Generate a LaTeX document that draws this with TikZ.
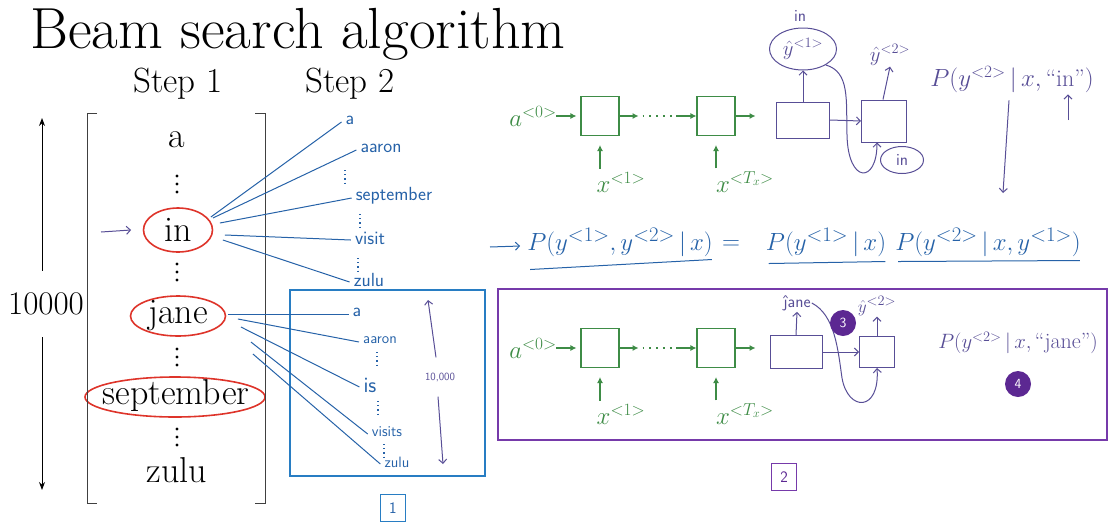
\documentclass[tikz,border=0pt]{standalone}
\usepackage{amsmath,amssymb}
\usepackage{tikz}
\usetikzlibrary{arrows.meta,shapes.geometric}

\definecolor{rnngreen}{RGB}{62,140,70}
\definecolor{handblue}{RGB}{38,98,168}
\definecolor{handpurple}{RGB}{88,78,150}
\definecolor{boxpurple}{RGB}{118,58,170}
\definecolor{boxblue}{RGB}{40,125,195}
\definecolor{ringred}{RGB}{222,52,42}
\definecolor{dotpurple}{RGB}{92,40,146}

\begin{document}
\begin{tikzpicture}[x=1pt, y=-1pt, >={Latex[length=2mm]},
  word/.style={font=\fontsize{36}{40}\selectfont, inner sep=0pt},
  ring/.style={draw=ringred, line width=1.6pt},
  cell/.style={draw=rnngreen, line width=1.1pt, minimum width=38pt, minimum height=39pt, inner sep=0pt},
  garrow/.style={rnngreen, line width=1.1pt, -{Latex[length=6pt,width=6pt]}},
  gtext/.style={text=rnngreen, font=\fontsize{24}{26}\selectfont, inner sep=1pt},
  hand/.style={handpurple, line width=1pt},
  hbox/.style={draw=handpurple, line width=1pt, inner sep=0pt},
  hring/.style={ellipse, draw=handpurple, line width=1pt, inner sep=0pt},
  harrow/.style={hand, -{Straight Barb[length=4pt,width=8pt]}},
  hw/.style={text=handblue, font=\sffamily\fontsize{19}{22}\selectfont, inner sep=1pt},
  hwsmall/.style={hw, font=\sffamily\fontsize{15}{18}\selectfont},
  hp/.style={text=handpurple, font=\fontsize{22}{26}\selectfont, inner sep=1pt},
  hpword/.style={hp, font=\sffamily\fontsize{17}{18}\selectfont},
  eq/.style={text=handblue, font=\fontsize{28}{32}\selectfont, inner sep=1pt},
  fan/.style={handblue, line width=1pt},
  hdots/.style={handblue, line width=1.2pt, dash pattern=on 1.2pt off 3pt},
  badge/.style={circle, fill=dotpurple, text=white, font=\sffamily\fontsize{14}{16}\selectfont, minimum size=26pt, inner sep=0pt},
  tag/.style={draw, line width=1.2pt, font=\sffamily\fontsize{16}{18}\selectfont, minimum width=25pt, minimum height=27pt, inner sep=0pt}]
\useasboundingbox (0,0) rectangle (1110,528);

% title and column heads
\node[anchor=base west, font=\fontsize{58}{64}\selectfont, inner sep=0pt] (title) at (30,48) {Beam search algorithm};
\node[anchor=base, font=\fontsize{35}{38}\selectfont] (step1) at (178,92) {Step 1};
\node[anchor=base, font=\fontsize{35}{38}\selectfont] (step2) at (350,92) {Step 2};

% vocabulary
\node[word] (va) at (177,140) {a};
\node[word] (vin) at (178,230) {in};
\node[word] (vjane) at (178,316) {jane};
\node[word] (vsep) at (176,396) {september};
\node[word] (vzulu) at (177,470) {zulu};
\foreach \yy in {184, 272, 357, 437}
  \foreach \k in {-8,0,8}
    \fill (177,\yy+\k) circle (1.7pt);
\draw[ring] (vin.center) ellipse [x radius=34.5, y radius=22];
\draw[ring] (vjane.center) ellipse [x radius=47.5, y radius=20];
\draw[ring] ([shift={(-1,1)}]vsep.center) ellipse [x radius=90, y radius=20];
\draw[line width=1pt, black!75] (97,113) -- (87,113) -- (87,503) -- (97,503);
\draw[line width=1pt, black!75] (255,113) -- (265,113) -- (265,503) -- (255,503);

% vocabulary size
\node[word, font=\fontsize{33}{36}\selectfont, inner ysep=22pt] (size) at (46,304) {10000};
\coordinate (vtop) at (42,118);
\coordinate (vbot) at (42,490);
\draw[line width=1pt, -{Stealth[length=8pt,width=6pt]}] (vtop |- size.north) -- (vtop);
\draw[line width=1pt, -{Stealth[length=8pt,width=6pt]}] (vbot |- size.south) -- (vbot);
\coordinate (pointer) at (101,232);
\draw[harrow] (pointer) -- ([shift={(-33,0)}]vin.west);

% step 2, words after "in"
\node[hw] (ta) at (350,120) {a};
\node[hw] (tb) at (381,148) {aaron};
\node[hw] (tc) at (394,196) {september};
\node[hw] (td) at (370,238) {visit};
\node[hw] (te) at (369,280) {zulu};
\foreach \t/\dx/\dy in {ta/19/-13, tb/21/-12, tc/28/-7, td/33/5, te/31/10}
  \draw[fan] ([shift={(\dx,\dy)}]vin.east) -- ([shift={(-3,2)}]\t.west);
\foreach \a/\b in {345/170, 360/214, 358/258}
  \draw[hdots] (\a,\b) -- (\a,\b+14);

% step 2, words after "jane"
\draw[boxblue, line width=2pt] (290,290) rectangle (485,476);
\node[tag, draw=boxblue, text=handblue] (tag1) at (393,508) {1};
\node[hw] (ba) at (357,312) {a};
\node[hwsmall] (bb) at (380,340) {aaron};
\node[hw, font=\sffamily\fontsize{22}{24}\selectfont] (bc) at (370,385) {is};
\node[hwsmall] (bd) at (387,432) {visits};
\node[hwsmall] (be) at (397,462) {zulu};
\foreach \t/\dx/\dy in {ba/20/-2, bb/30/3, bc/33/11, bd/43/26, be/45/38}
  \draw[fan] ([shift={(\dx,\dy)}]vjane.east) -- ([shift={(-3,2)}]\t.west);
\foreach \a/\b in {377/352, 378/401, 384/444}
  \draw[hdots] (\a,\b) -- (\a,\b+16);
\node[text=handpurple, font=\sffamily\fontsize{11}{12}\selectfont, inner sep=1pt] (tenk) at (440,377) {10,000};
\coordinate (tkup) at (428,300);
\coordinate (tkdown) at (443,464);
\draw[harrow] ([shift={(-4,-14)}]tenk.north) -- (tkup);
\draw[harrow] ([shift={(-2,14)}]tenk.south) -- (tkdown);

% encoder rows
\foreach \r/\yy in {t/116, b/348} {
  \node[gtext, anchor=east] (a0\r) at (558,\yy) {$a^{<0>}$};
  \node[cell] (c1\r) at (600,\yy) {};
  \node[cell] (c2\r) at (716,\yy) {};
  \node[gtext] (x1\r) at (621,\yy+66) {$x^{<1>}$};
  \node[gtext] (x2\r) at (745,\yy+66) {$x^{<T_x>}$};
  \draw[garrow, shorten <=-2pt, shorten >=4pt] (a0\r.east) -- (c1\r.west);
  \draw[garrow] (c1\r.east) -- ([shift={(19,0)}]c1\r.east) coordinate (m1\r);
  \draw[rnngreen, line width=1.8pt, dash pattern=on 1.8pt off 5pt] ([shift={(4,0)}]m1\r) -- ([shift={(-20,0)}]c2\r.west) coordinate (m2\r);
  \draw[garrow] (m2\r) -- (c2\r.west);
  \draw[garrow] (c2\r.east) -- ([shift={(20,0)}]c2\r.east);
  \draw[garrow, shorten <=2pt, shorten >=9pt] (c1\r.south |- x1\r.north) -- (c1\r.south);
  \draw[garrow, shorten <=2pt, shorten >=9pt] (c2\r.south |- x2\r.north) -- (c2\r.south);
}

% decoder, first word "in"
\node[hbox, minimum width=53pt, minimum height=36pt] (da) at (803,120) {};
\node[hbox, minimum width=45pt, minimum height=42pt] (db) at (884,121) {};
\node[hring, hp, minimum width=67pt, minimum height=42pt] (yh1) at (803,49) {$\hat y^{<1>}$};
\node[hpword] (inlab) at (800,16) {in};
\node[hp] (yh2) at (890,55) {$\hat y^{<2>}$};
\node[hring, hpword, minimum width=43pt, minimum height=27pt] (in2) at (902,160) {in};
\draw[harrow] (da.east) -- (db.west);
\draw[harrow] (da.north) -- (yh1.south);
\draw[harrow] ([shift={(-1,0)}]db.north) -- (yh2.south);
\draw[harrow] (yh1.-35) .. controls (850,72) and (846,100) .. (847,135)
  .. controls (848,184) and (877,184) .. ([shift={(-7,0)}]db.south);
\node[hp, font=\fontsize{24}{28}\selectfont] (pin) at (1012,80) {$P(y^{<2>}\,|\, x,\text{``in''})$};
\coordinate (inup) at (1068,120);
\coordinate (pdown) at (1003,193);
\draw[harrow] (inup) -- (inup |- pin.south);
\draw[harrow] ([shift={(-3,6)}]pin.south) -- (pdown);

% chain rule
\node[eq] (joint) at (620,242) {$P(y^{<1>},y^{<2>}\,|\,x)$};
\node[eq] (eqs) at (731,245) {$=$};
\node[eq] (marg) at (826,242) {$P(y^{<1>}\,|\,x)$};
\node[eq] (cond) at (988,242) {$P(y^{<2>}\,|\,x,y^{<1>})$};
\coordinate (eqptr) at (490,247);
\draw[harrow, handblue] (eqptr) -- ([shift={(-6,4)}]joint.west);
\draw[fan] ([shift={(4,12)}]joint.south west) -- ([shift={(-2,2)}]joint.south east);
\draw[fan] ([shift={(4,6)}]marg.south west) -- ([shift={(-2,4)}]marg.south east);
\draw[fan] ([shift={(4,4)}]cond.south west) -- ([shift={(-2,3)}]cond.south east);

% decoder, first word "jane"
\draw[boxpurple, line width=2pt] (498,289) rectangle (1107,440);
\node[tag, draw=boxpurple, text=dotpurple] (tag2) at (784,477) {2};
\node[hbox, minimum width=52pt, minimum height=33pt] (da2) at (796,352) {};
\node[hbox, minimum width=35pt, minimum height=31pt] (db2) at (877,352) {};
\node[hpword] (jh) at (797,303) {ĵane};
\node[hp, font=\fontsize{19}{22}\selectfont] (yh2b) at (877,306) {$\hat y^{<2>}$};
\draw[harrow] (da2.north) -- (jh.south);
\draw[harrow] (db2.north) -- (yh2b.south);
\draw[harrow] (jh.east) .. controls (835,315) and (838,350) .. (842,378)
  .. controls (848,412) and (880,412) .. (db2.south);
\draw[harrow] (da2.east) -- (db2.west);
\node[badge] (n3) at (843,323) {3};
\node[hp, font=\fontsize{22}{26}\selectfont] (pjane) at (1018,343) {$P(y^{<2>}\,|\, x,\text{``jane''})$};
\node[badge] (n4) at (1018,384) {4};
\end{tikzpicture}
\end{document}
